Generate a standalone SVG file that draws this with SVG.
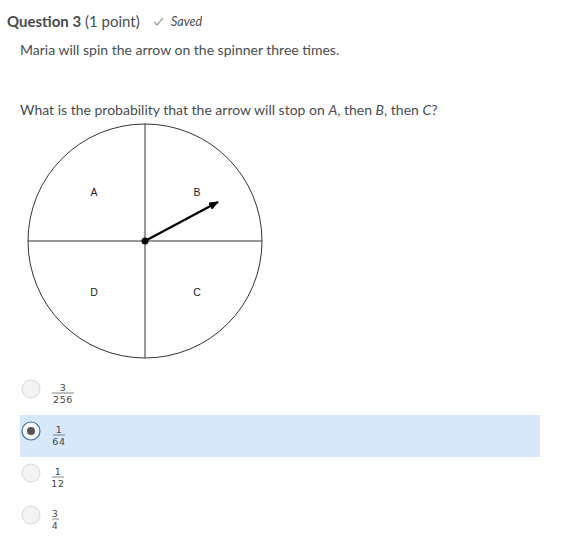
<svg xmlns="http://www.w3.org/2000/svg" width="566" height="543" viewBox="0 0 566 543">
<defs>
<style>
.t{font-family:Lato,"Open Sans",sans-serif;fill:#494c4e}
.lbl{font-family:"Liberation Sans",Arial,sans-serif;font-size:10.5px;fill:#222;text-anchor:middle}
.fr{font-family:"DejaVu Sans",sans-serif;font-size:9.5px;fill:#444;text-anchor:middle;letter-spacing:0.6px}
.radio{fill:#f2f3f4;stroke:#d6d8da;stroke-width:1}
.ln{stroke:#333;stroke-width:1;fill:none}
</style>
<marker id="ah" markerWidth="10" markerHeight="8" refX="9" refY="4" orient="auto" markerUnits="userSpaceOnUse">
<path d="M0,0 L10,4 L0,8 Z" fill="#000"/>
</marker>
</defs>
<rect width="566" height="543" fill="#fff"/>
<g id="header">
<text class="t" x="7" y="27" font-size="15"><tspan font-weight="bold" fill="#494c4e">Question 3</tspan> (1 point)</text>
<path d="M154,22 l3,3 l6,-7" stroke="#a0a4a8" stroke-width="1.3" fill="none"/>
<text class="t" x="171" y="26" font-size="12.5" font-style="italic" fill="#6e7376">Saved</text>
</g>
<g id="text">
<text class="t" x="20" y="55" font-size="14">Maria will spin the arrow on the spinner three times.</text>
<text class="t" x="20" y="115" font-size="14">What is the probability that the arrow will stop on <tspan font-style="italic">A</tspan>, then <tspan font-style="italic">B</tspan>, then <tspan font-style="italic">C</tspan>?</text>
</g>
<g id="spinner">
<circle class="ln" cx="145" cy="241" r="117"/>
<line class="ln" x1="145" y1="124" x2="145" y2="358"/>
<line class="ln" x1="28" y1="241" x2="262" y2="241"/>
<text class="lbl" x="94" y="196">A</text>
<text class="lbl" x="197" y="196">B</text>
<text class="lbl" x="197" y="296">C</text>
<text class="lbl" x="94" y="296">D</text>
<line x1="145" y1="241" x2="218" y2="202" stroke="#000" stroke-width="2.2" marker-end="url(#ah)"/>
<circle cx="145" cy="241" r="3.5" fill="#000"/>
</g>
<g id="opt1">
<circle class="radio" cx="31" cy="389" r="9"/>
<text class="fr" x="63" y="391">3</text>
<line x1="52" y1="393" x2="74" y2="393" stroke="#666" stroke-width="0.8"/>
<text class="fr" x="63" y="403">256</text>
</g>
<g id="opt2">
<rect x="20" y="415" width="520" height="42" fill="#d6e8fa"/>
<circle cx="31" cy="431" r="9" fill="#f7f9fb" stroke="#3f6fa0" stroke-width="1.2"/>
<circle cx="31" cy="431" r="4" fill="#555"/>
<text class="fr" x="59" y="433">1</text>
<line x1="53" y1="435" x2="65" y2="435" stroke="#666" stroke-width="0.8"/>
<text class="fr" x="59" y="445">64</text>
</g>
<g id="opt3">
<circle class="radio" cx="31" cy="473" r="9"/>
<text class="fr" x="58" y="475">1</text>
<line x1="52" y1="477" x2="64" y2="477" stroke="#666" stroke-width="0.8"/>
<text class="fr" x="58" y="487">12</text>
</g>
<g id="opt4">
<circle class="radio" cx="31" cy="515" r="9"/>
<text class="fr" x="55" y="517">3</text>
<line x1="52" y1="519" x2="59" y2="519" stroke="#666" stroke-width="0.8"/>
<text class="fr" x="55" y="529">4</text>
</g>
</svg>
